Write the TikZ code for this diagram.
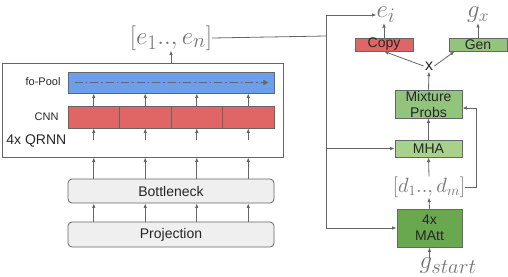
\documentclass[tikz,border=0pt]{standalone}
\usepackage{fontspec}
\setsansfont{Liberation Sans}
\usepackage{tikz}
\usetikzlibrary{arrows.meta, positioning}
\definecolor{linegray}{HTML}{666666}
\definecolor{poolblue}{HTML}{6D9EEB}
\definecolor{cnnred}{HTML}{E06666}
\definecolor{genlight}{HTML}{93C47D}
\definecolor{mhagreen}{HTML}{A9D18E}
\definecolor{mattgreen}{HTML}{6AA84F}
\definecolor{projgray}{HTML}{EFEFEF}

\begin{document}
\begin{tikzpicture}[
  x=1pt, y=-1pt,
  box/.style={draw=linegray, line width=0.8pt, inner sep=0pt, align=center,
              font=\sffamily\fontsize{14}{16}\selectfont, text=black!85},
  rbox/.style={box, fill=projgray, rounded corners=4pt,
               minimum width=206pt},
  tag/.style={font=\sffamily\fontsize{11}{13}\selectfont, text=black!85},
  vec/.style={inner sep=0pt, text=black!55},
  arr/.style={-{Latex[length=4.5pt,width=3.5pt]}, draw=linegray, line width=0.8pt},
  wire/.style={draw=linegray, line width=0.8pt}
]
\useasboundingbox (0,0) rectangle (508,276);

% encoder side
\node[box, minimum width=281pt, minimum height=94pt] (qrnn) at (142.5,110) {};
\node[box, fill=poolblue, minimum width=206pt, minimum height=21pt] (pool) at (171,82.5) {};
\foreach \i in {1,...,4}
  \node[box, fill=cnnred, minimum width=51.5pt, minimum height=22pt]
    (cnn\i) at ({68+51.5*(\i-0.5)},117) {};
\draw[-{Triangle[length=5pt,width=5pt]}, draw=black!60, fill=black!60, line width=0.8pt,
      dash pattern=on 8pt off 3pt on 1.5pt off 3pt]
  ([xshift=7pt]pool.west) -- ([xshift=-6pt]pool.east);

\node[tag, anchor=east] (pooltag) at (64,82) {fo-Pool};
\node[tag, anchor=east] (cnntag) at (62,117) {CNN};
\node[box, draw=none, anchor=west] (qtag) at (6,141) {4x QRNN};

\node[rbox, minimum height=24pt] (bott) at (171,191) {Bottleneck};
\node[rbox, minimum height=25pt] (proj) at (171,234.5) {Projection};

\foreach \i in {1,...,4} {
  \draw[arr] (proj.north -| cnn\i) -- (bott.south -| cnn\i);
  \draw[arr] (bott.north -| cnn\i) -- (qrnn.south -| cnn\i);
  \draw[arr] ([yshift=-12pt]cnn\i.south) -- (cnn\i.south);
  \draw[arr] (cnn\i.north) -- (pool.south -| cnn\i);
}

\node[vec, font=\Huge] (enc) at (171,38) {$[e_1..,e_n]$};
\draw[arr] (qrnn.north -| enc.south) -- (enc.south);

% decoder side
\node[box, fill=mattgreen, minimum width=65pt, minimum height=38pt] (matt) at (429.5,228) {4x\\MAtt};
\node[vec, font=\Huge] (gs) at (448,266) {$g_{start}$};
\node[vec, font=\huge] (dec) at (429,187) {$[d_1..,d_m]$};
\node[box, fill=mhagreen, minimum width=67pt, minimum height=17pt] (mha) at (428.5,148.5) {MHA};
\node[box, fill=genlight, minimum width=67pt, minimum height=28pt] (mix) at (428.5,104) {Mixture\\Probs};
\node[box, draw=none, inner sep=1pt, font=\sffamily\fontsize{16}{18}\selectfont] (mult) at (429,66) {x};
\node[box, fill=cnnred, minimum width=58pt, minimum height=13pt] (copy) at (384,44.5) {Copy};
\node[box, fill=genlight, minimum width=58pt, minimum height=13pt] (gen) at (478,44.5) {Gen};
\node[vec, font=\fontsize{28}{30}\selectfont] (ei) at (386,15) {$e_i$};
\node[vec, font=\fontsize{27}{30}\selectfont] (gx) at (478,15) {$g_x$};

\draw[arr] (gs.north -| matt.south) -- (matt.south);
\draw[arr] (matt.north) -- (dec.south);
\draw[arr] (dec.north) -- (mha.south);
\draw[arr] (mha.north) -- (mix.south);
\draw[arr] (mix.north) -- (mult.south);
\draw[arr] (mult.west) -- (copy.south);
\draw[arr] (mult.east) -- ([xshift=6pt]gen.south west);
\draw[arr] (copy.north) -- (ei.south -| copy.north);
\draw[arr] (gen.north) -- (gx.south);
\draw[arr] (dec.east) -| ([xshift=14pt,yshift=-4pt]mix.east) -- ([yshift=-4pt]mix.east);

\coordinate (trunk) at (326,36);
\draw[wire] (enc.east) -- (trunk);
\draw[arr] (trunk) |- (ei.west);
\draw[arr] (trunk) |- (matt.west);
\draw[arr] (trunk |- mha.west) -- (mha.west);
\end{tikzpicture}
\end{document}
